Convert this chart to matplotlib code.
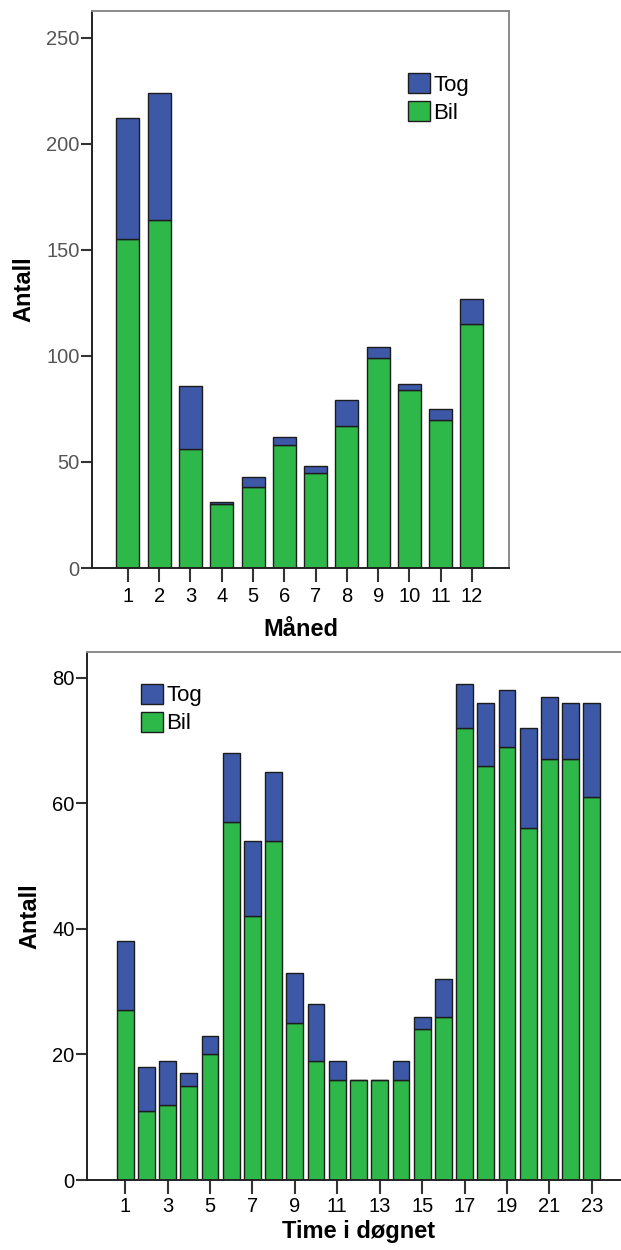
import matplotlib
matplotlib.use("Agg")
import matplotlib.pyplot as plt

plt.rcParams['font.family'] = ['Liberation Sans', 'DejaVu Sans']

# Monthly counts
months = list(range(1, 13))
month_bil = [155, 164, 56, 30, 38, 58, 45, 67, 99, 84, 70, 115]
month_tog = [57, 60, 30, 1, 5, 4, 3, 12, 5, 3, 5, 12]

# Hourly counts
hours = list(range(1, 24))
hour_bil = [27, 11, 12, 15, 20, 57, 42, 54, 25, 19, 16, 16, 16, 16, 24, 26,
            72, 66, 69, 56, 67, 67, 61]
hour_tog = [11, 7, 7, 2, 3, 11, 12, 11, 8, 9, 3, 0, 0, 3, 2, 6,
            7, 10, 9, 16, 10, 9, 15]
hour_ticks = list(range(1, 24, 2))

BLUE = '#3E58A8'
GREEN = '#2FB84A'
EDGE = '#1c1c1c'

fig = plt.figure(figsize=(6.21, 12.5), dpi=100)


def style_axes(ax, ytick_color, xpad):
    ax.spines['left'].set_color('#222222')
    ax.spines['bottom'].set_color('#222222')
    ax.spines['top'].set_color('#8a8a8a')
    ax.spines['right'].set_color('#8a8a8a')
    for s in ax.spines.values():
        s.set_linewidth(1.4)
    ax.tick_params(axis='x', length=10, width=1.5, color='#333333',
                   labelsize=14.5, labelcolor='black', pad=xpad)
    ax.tick_params(axis='y', length=8, width=1.5, color='#333333',
                   labelsize=14.5, labelcolor=ytick_color, pad=1)


def stacked(ax, x, bil, tog, width, ticks, yticks, ylim, xlim, xlabel,
            leg_anchor, ytick_color, xpad, xlabelpad):
    b_bil = ax.bar(x, bil, width=width, color=GREEN, edgecolor=EDGE,
                   linewidth=1.0, label='Bil', zorder=2)
    b_tog = ax.bar(x, tog, width=width, bottom=bil, color=BLUE,
                   edgecolor=EDGE, linewidth=1.0, label='Tog', zorder=2)
    ax.set_xlim(*xlim)
    ax.set_ylim(*ylim)
    ax.set_xticks(ticks)
    ax.set_xticklabels([str(t) for t in ticks])
    ax.set_yticks(yticks)
    style_axes(ax, ytick_color, xpad)
    ax.set_xlabel(xlabel, fontsize=17, fontweight='bold', labelpad=xlabelpad)
    ax.set_ylabel('Antall', fontsize=17, fontweight='bold', labelpad=8)
    ax.legend(handles=[b_tog, b_bil], labels=['Tog', 'Bil'], loc='upper left',
              bbox_to_anchor=leg_anchor, frameon=False, fontsize=16,
              handlelength=1.0, handleheight=1.0, handletextpad=0.15,
              labelspacing=0.25, borderpad=0, borderaxespad=0)


ax1 = fig.add_axes([0.148, 0.5456, 0.6715, 0.4456])
stacked(ax1, months, month_bil, month_tog, 0.735, months,
        [0, 50, 100, 150, 200, 250], (0, 262.7), (-0.15, 13.18), 'Måned',
        (0.758, 0.888), '#555555', 4, 8)

ax2 = fig.add_axes([0.1401, 0.056, 0.8744, 0.4224])
stacked(ax2, hours, hour_bil, hour_tog, 0.79, hour_ticks,
        [0, 20, 40, 60, 80], (0, 84.1), (-0.8, 24.8), 'Time i døgnet',
        (0.099, 0.94), 'black', 2, 3)

fig.savefig('out.png', dpi=100)
